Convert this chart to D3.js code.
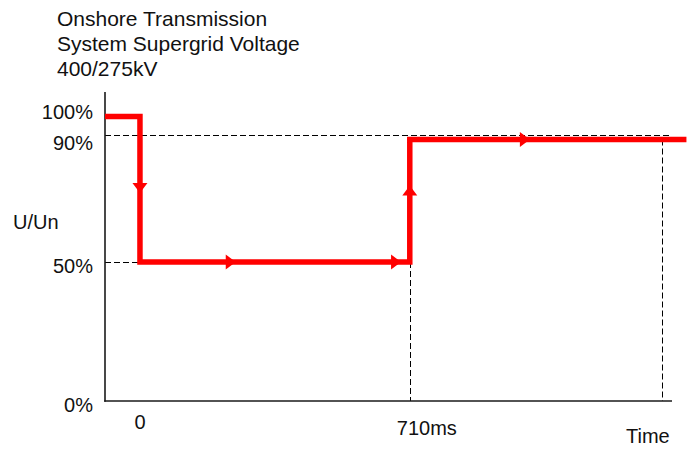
<!DOCTYPE html>
<html><head><meta charset="utf-8">
<script src="https://cdn.jsdelivr.net/npm/d3@7"></script>
<style>
html,body{margin:0;padding:0;background:#fff;}
svg{display:block;font-family:"Liberation Sans",Arial,sans-serif;}
</style></head>
<body>
<svg id="chart" width="693" height="451"></svg>
<script>
// ---- data ----
const titleLines = ["Onshore Transmission", "System Supergrid Voltage", "400/275kV"];
const yTickValues = [100, 90, 50, 0];
const yTickLabels = ["100%", "90%", "50%", "0%"];
const xTickValues = [0, 710];
const xTickLabels = ["0", "710ms"];
const yAxisTitle = "U/Un";
const xAxisTitle = "Time";
// voltage profile (time in ms, voltage in % of Un)
const profileTime = [-92, 0, 0, 710, 710, 1438];
const profileVolt = [100, 100, 50, 50, 90, 90];
// direction arrows (tip position)
const arrowTime = [0, 252, 687, 710, 1026];
const arrowVolt = [72.5, 50, 50, 75, 90];
const arrowDir = ["down", "right", "right", "up", "right"];
// reference lines
const refVolt90 = 90;
const refTimeEnd = 1373;

const svg = d3.select("#chart");
const x = d3.scaleLinear().domain([-92, 1400]).range([105, 672]);
const y = d3.scaleLinear().domain([0, 50, 90, 100]).range([401, 262, 139.5, 116.5]);
const crisp = v => Math.round(v) + 0.5;

// title
svg.append("g").selectAll("text").data(titleLines).join("text")
  .attr("x", 57).attr("y", (d, i) => 26 + i * 25)
  .attr("font-size", 21).attr("fill", "#111").text(d => d);

// dashed reference lines
const dash = svg.append("g").attr("stroke", "#000").attr("stroke-width", 1).attr("stroke-dasharray", "6,3").attr("fill", "none");
dash.append("line").attr("x1", x(-92)).attr("x2", x(refTimeEnd) + 8)
  .attr("y1", crisp(y(refVolt90) - 5)).attr("y2", crisp(y(refVolt90) - 5));
dash.append("line").attr("x1", x(-92)).attr("x2", x(0))
  .attr("y1", crisp(y(50))).attr("y2", crisp(y(50)));
dash.append("line").attr("x1", crisp(x(710))).attr("x2", crisp(x(710)))
  .attr("y1", y(50)).attr("y2", y(0));
dash.append("line").attr("x1", crisp(x(refTimeEnd))).attr("x2", crisp(x(refTimeEnd)))
  .attr("y1", y(refVolt90)).attr("y2", y(0));

// axes lines
const ax = svg.append("g").attr("stroke", "#1a1a1a").attr("stroke-width", 1.6);
ax.append("line").attr("x1", x(-92)).attr("x2", x(-92)).attr("y1", 92).attr("y2", y(0) + 0.8);
ax.append("line").attr("x1", x(-92) - 0.8).attr("x2", x(1400)).attr("y1", y(0)).attr("y2", y(0));

// y labels
svg.append("g").selectAll("text").data(yTickValues).join("text")
  .attr("x", 93).attr("y", d => y(d) + (d === 100 ? -5 : 3.5))
  .attr("dy", "0.35em").attr("text-anchor", "end").attr("font-size", 20).attr("fill", "#111")
  .text((d, i) => yTickLabels[i]);

// x labels
svg.append("g").selectAll("text").data(xTickValues).join("text")
  .attr("x", d => d === 0 ? x(d) : x(d) - 13)
  .attr("y", d => d === 0 ? 429 : 435)
  .attr("text-anchor", d => d === 0 ? "middle" : "start")
  .attr("font-size", 20).attr("fill", "#111")
  .text((d, i) => xTickLabels[i]);

svg.append("text").attr("x", 13).attr("y", 229).attr("font-size", 20).attr("fill", "#111").text(yAxisTitle);
svg.append("text").attr("x", 626).attr("y", 443).attr("font-size", 20).attr("fill", "#111").text(xAxisTitle);

// red profile
const pts = profileTime.map((t, i) => [x(t), y(profileVolt[i])]);
svg.append("path").attr("d", d3.line()(pts))
  .attr("fill", "none").attr("stroke", "#ff0000").attr("stroke-width", 5.5)
  .attr("stroke-linejoin", "miter");

// arrows
const L = 10, W = 7.5;
svg.append("g").selectAll("path").data(arrowTime).join("path")
  .attr("fill", "#ff0000")
  .attr("d", (t, i) => {
    const px = x(t), py = y(arrowVolt[i]), dir = arrowDir[i];
    if (dir === "right") return `M${px},${py}L${px - L},${py - W}L${px - L},${py + W}Z`;
    if (dir === "down") return `M${px},${py}L${px - W},${py - L}L${px + W},${py - L}Z`;
    return `M${px},${py}L${px - W},${py + L}L${px + W},${py + L}Z`;
  });
</script>
</body></html>
